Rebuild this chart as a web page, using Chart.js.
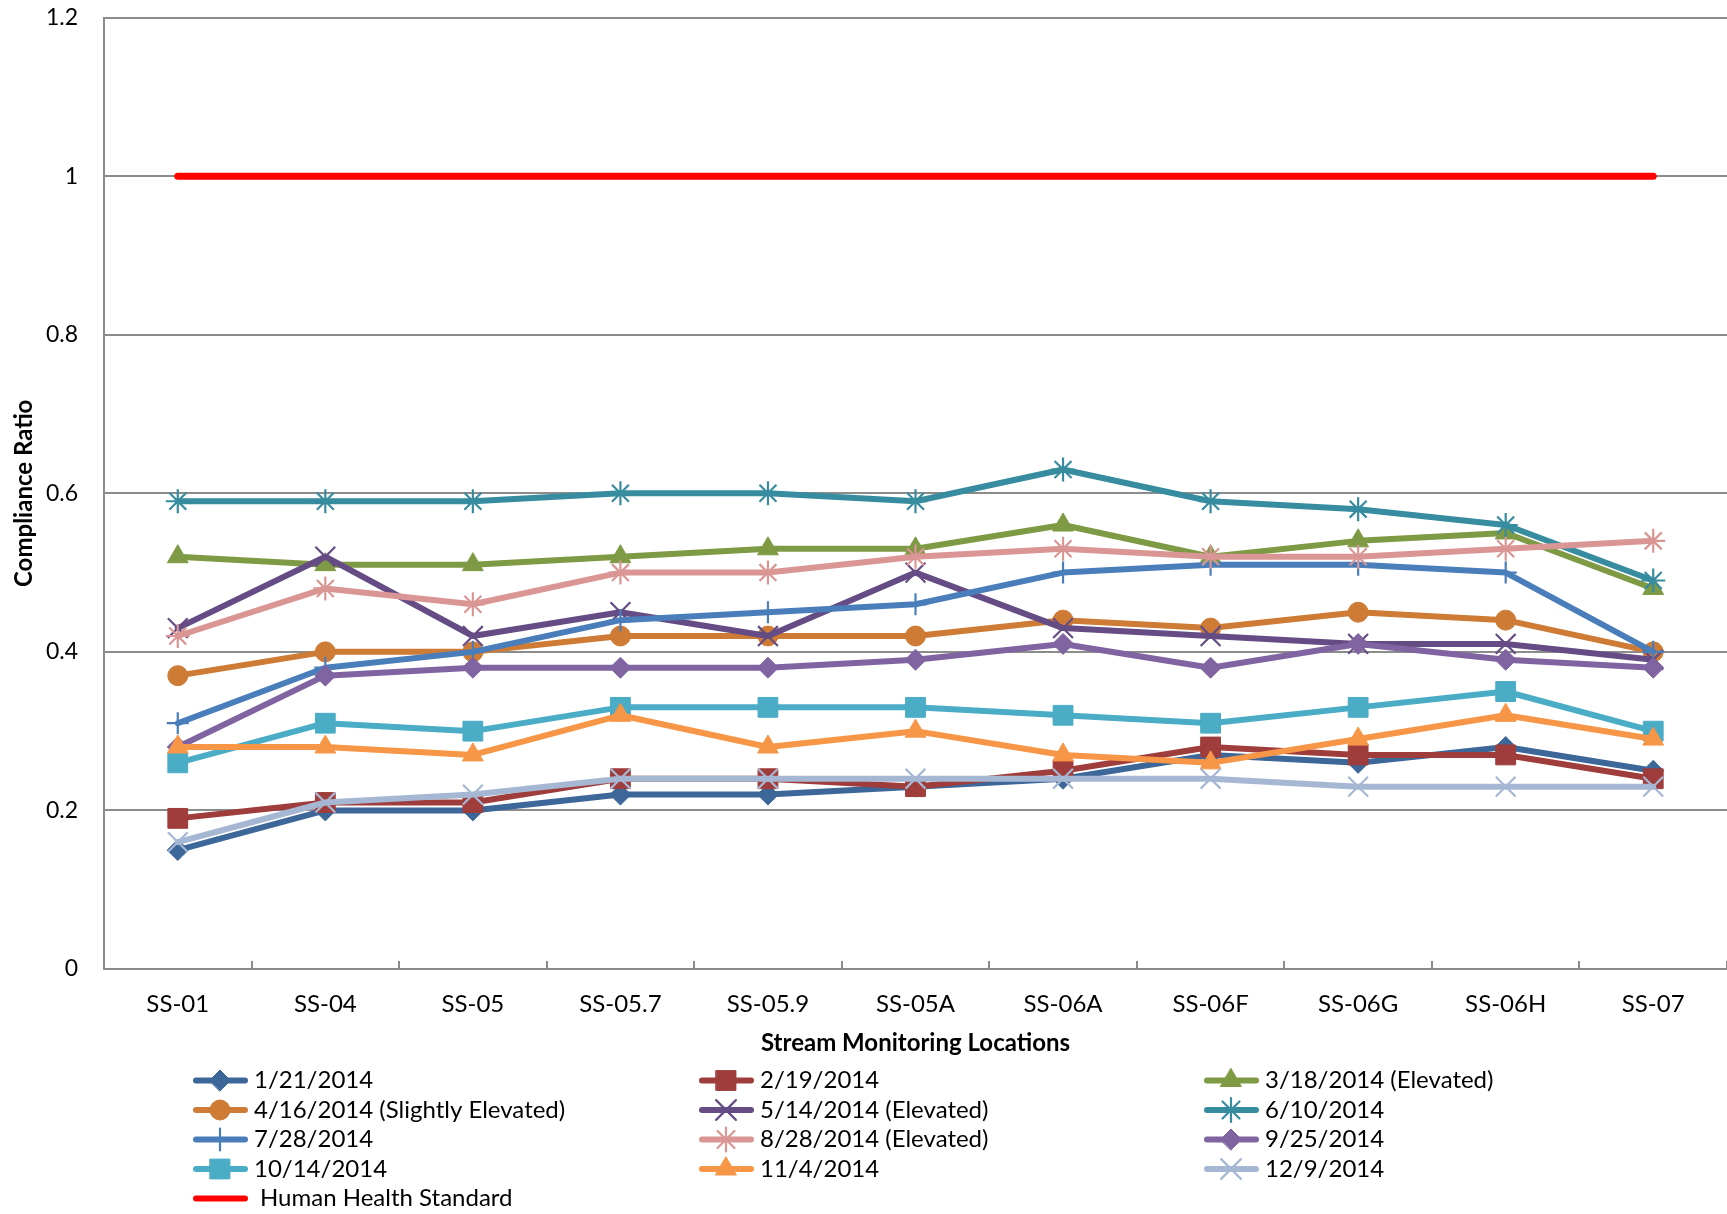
<!DOCTYPE html>
<html>
<head>
<meta charset="utf-8">
<title>Compliance Ratio by Stream Monitoring Location</title>
<script src="https://cdn.jsdelivr.net/npm/chart.js@4.4.1/dist/chart.umd.min.js"></script>
<style>
  html, body { margin: 0; padding: 0; background: #ffffff; overflow: hidden; }
  #wrap { position: relative; width: 1727px; height: 1214px; }
  #complianceChart { display: block; }
</style>
</head>
<body>
<div id="wrap"><canvas id="complianceChart"></canvas></div>
<script>
// Values
const locations = ['SS-01', 'SS-04', 'SS-05', 'SS-05.7', 'SS-05.9', 'SS-05A', 'SS-06A', 'SS-06F', 'SS-06G', 'SS-06H', 'SS-07'];

const jan21 = [0.15, 0.20, 0.20, 0.22, 0.22, 0.23, 0.24, 0.27, 0.26, 0.28, 0.25];
const feb19 = [0.19, 0.21, 0.21, 0.24, 0.24, 0.23, 0.25, 0.28, 0.27, 0.27, 0.24];
const mar18 = [0.52, 0.51, 0.51, 0.52, 0.53, 0.53, 0.56, 0.52, 0.54, 0.55, 0.48];
const apr16 = [0.37, 0.40, 0.40, 0.42, 0.42, 0.42, 0.44, 0.43, 0.45, 0.44, 0.40];
const may14 = [0.43, 0.52, 0.42, 0.45, 0.42, 0.50, 0.43, 0.42, 0.41, 0.41, 0.39];
const jun10 = [0.59, 0.59, 0.59, 0.60, 0.60, 0.59, 0.63, 0.59, 0.58, 0.56, 0.49];
const jul28 = [0.31, 0.38, 0.40, 0.44, 0.45, 0.46, 0.50, 0.51, 0.51, 0.50, 0.40];
const aug28 = [0.42, 0.48, 0.46, 0.50, 0.50, 0.52, 0.53, 0.52, 0.52, 0.53, 0.54];
const sep25 = [0.28, 0.37, 0.38, 0.38, 0.38, 0.39, 0.41, 0.38, 0.41, 0.39, 0.38];
const oct14 = [0.26, 0.31, 0.30, 0.33, 0.33, 0.33, 0.32, 0.31, 0.33, 0.35, 0.30];
const nov4  = [0.28, 0.28, 0.27, 0.32, 0.28, 0.30, 0.27, 0.26, 0.29, 0.32, 0.29];
const dec9  = [0.16, 0.21, 0.22, 0.24, 0.24, 0.24, 0.24, 0.24, 0.23, 0.23, 0.23];
const healthStandard = [1, 1, 1, 1, 1, 1, 1, 1, 1, 1, 1];

const yTicks = [0, 0.2, 0.4, 0.6, 0.8, 1, 1.2];

// helper for one sampling series
function series(label, values, color, style, radius, hollow) {
    return {
        label: label,
        data: values,
        borderColor: color,
        backgroundColor: color,
        borderWidth: 6,
        borderJoinStyle: 'round',
        borderCapStyle: 'round',
        tension: 0,
        pointStyle: style,
        pointRadius: radius,
        pointHoverRadius: radius,
        pointBackgroundColor: color,
        pointBorderColor: color,
        pointBorderWidth: hollow ? 2.2 : 1
    };
}

const datasets = [
    series('1/21/2014', jan21, '#3D6699', 'rectRot', 10.5, false),
    series('2/19/2014', feb19, '#9E3D3B', 'rect', 14, false),
    series('3/18/2014 (Elevated)', mar18, '#7F9A44', 'triangle', 12, false),
    series('4/16/2014 (Slightly Elevated)', apr16, '#CD7B35', 'circle', 10, false),
    series('5/14/2014 (Elevated)', may14, '#664C84', 'crossRot', 14, true),
    series('6/10/2014', jun10, '#378C9F', 'star', 12, true),
    series('7/28/2014', jul28, '#4A7EBB', 'cross', 11, true),
    series('8/28/2014 (Elevated)', aug28, '#DA9694', 'star', 12, true),
    series('9/25/2014', sep25, '#8064A2', 'rectRot', 10.5, false),
    series('10/14/2014', oct14, '#4BACC6', 'rect', 14, false),
    series('11/4/2014', nov4, '#F79646', 'triangle', 12, false),
    series('12/9/2014', dec9, '#A6B7D4', 'crossRot', 14, true),
    {
        label: 'Human Health Standard',
        data: healthStandard,
        borderColor: '#FF0000',
        backgroundColor: '#FF0000',
        borderWidth: 7,
        borderCapStyle: 'round',
        pointRadius: 0,
        pointHoverRadius: 0
    }
];
// later series drawn on top, like the original
datasets.forEach((ds, i) => { ds.order = datasets.length - i; });

const GRID = '#8C8C8C';

// inside tick marks between categories
const tickMarks = {
    id: 'tickMarks',
    afterDatasetsDraw(chart) {
        const xs = chart.scales.x;
        const ctx = chart.ctx;
        ctx.save();
        ctx.strokeStyle = GRID;
        ctx.lineWidth = 2;
        for (let i = 0; i < locations.length; i++) {
            const px = Math.round(xs.getPixelForValue(i + 0.5));
            ctx.beginPath();
            ctx.moveTo(px, xs.top);
            ctx.lineTo(px, xs.top - 8);
            ctx.stroke();
        }
        ctx.restore();
    }
};

// three-column legend under the axis title
const gridLegend = {
    id: 'gridLegend',
    afterDraw(chart) {
        const ctx = chart.ctx;
        const cols = [193, 699, 1204];
        chart.data.datasets.forEach((ds, i) => {
            const x0 = cols[i % 3];
            const y = 1080.5 + Math.floor(i / 3) * 29.5;
            ctx.save();
            ctx.strokeStyle = ds.borderColor;
            ctx.lineWidth = 6;
            ctx.lineCap = 'round';
            ctx.beginPath();
            ctx.moveTo(x0 + 3, y);
            ctx.lineTo(x0 + 52, y);
            ctx.stroke();
            if (ds.pointRadius > 0) {
                ctx.fillStyle = ds.pointBackgroundColor;
                ctx.strokeStyle = ds.pointBorderColor;
                ctx.lineWidth = ds.pointBorderWidth;
                Chart.helpers.drawPoint(ctx, {
                    pointStyle: ds.pointStyle,
                    radius: ds.pointRadius,
                    borderWidth: ds.pointBorderWidth,
                    rotation: 0
                }, x0 + 27, y);
            }
            ctx.fillStyle = '#000000';
            ctx.font = '24px Lato';
            ctx.textBaseline = 'middle';
            ctx.textAlign = 'left';
            const tx = ds.pointRadius > 0 ? x0 + 61 : x0 + 67;
            ctx.fillText(ds.label, tx, y);
            ctx.restore();
        });
    }
};

Chart.defaults.font.family = 'Lato';
Chart.defaults.color = '#000000';

const config = {
    type: 'line',
    data: {
        labels: locations,
        datasets: datasets
    },
    options: {
        responsive: true,
        maintainAspectRatio: false,
        animation: false,
        layout: {
            autoPadding: false,
            padding: { top: 0, right: 0, bottom: 155, left: 0 }
        },
        plugins: {
            legend: { display: false },
            tooltip: { enabled: true }
        },
        scales: {
            x: {
                offset: true,
                afterFit: function(scale) {
                    scale.height = 90;
                    scale.paddingLeft = 0;
                    scale.paddingRight = 0;
                },
                grid: {
                    display: true,
                    drawOnChartArea: false,
                    drawTicks: false,
                    offset: true
                },
                border: { display: true, color: GRID, width: 2 },
                ticks: {
                    padding: 21,
                    font: { size: 24 },
                    color: '#000000'
                },
                title: {
                    display: true,
                    text: 'Stream Monitoring Locations',
                    font: { size: 24, weight: 'bold' },
                    padding: { top: 0, bottom: 1 },
                    color: '#000000'
                }
            },
            y: {
                min: 0,
                max: 1.2,
                afterFit: function(scale) {
                    scale.width = 104;
                    scale.paddingTop = 17.6;
                    scale.paddingBottom = 0;
                },
                afterBuildTicks: function(scale) {
                    scale.ticks = yTicks.map(v => ({ value: v }));
                },
                grid: {
                    color: GRID,
                    lineWidth: 2,
                    drawTicks: false
                },
                border: { display: true, color: GRID, width: 2 },
                ticks: {
                    padding: 26,
                    font: { size: 23 },
                    color: '#000000',
                    callback: function(value) {
                        return String(Number(value.toFixed(1)));
                    }
                },
                title: {
                    display: true,
                    text: 'Compliance Ratio',
                    font: { size: 24, weight: 'bold' },
                    padding: { top: 10, bottom: 0 },
                    color: '#000000'
                }
            }
        }
    },
    plugins: [tickMarks, gridLegend]
};

const ctx = document.getElementById('complianceChart').getContext('2d');
const complianceChart = new Chart(ctx, config);
</script>
</body>
</html>
